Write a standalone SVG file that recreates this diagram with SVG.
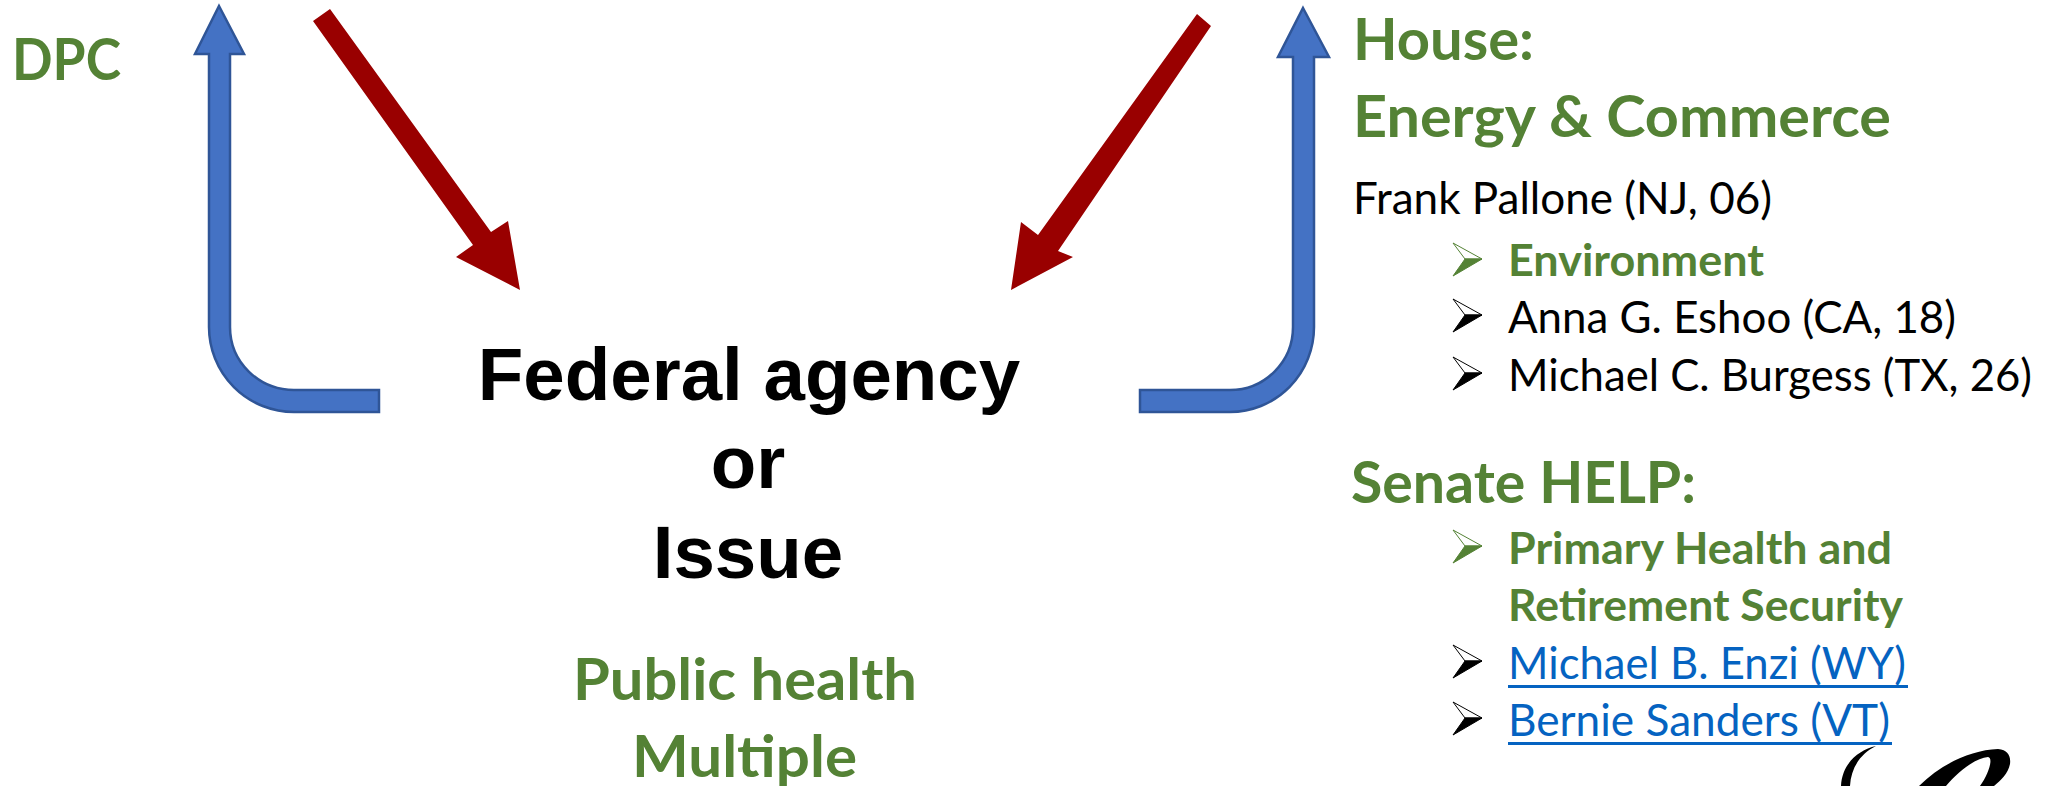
<svg xmlns="http://www.w3.org/2000/svg" width="2048" height="786" viewBox="0 0 2048 786">
<defs>
<g id="bullet">
<path d="M0 0L29 16L12 16Z" fill="#fff" stroke="currentColor" stroke-width="1"/>
<path d="M0 33L29 16L12 16Z" fill="currentColor" stroke="currentColor" stroke-width="1"/>
</g>
</defs>
<style>
text{font-family:"Lato","Carlito","Noto Sans",sans-serif;white-space:pre}
.big{font-family:"Liberation Sans",Arial,sans-serif;font-weight:700;font-size:74.5px;fill:#000;text-anchor:middle}
.h{font-weight:700;font-size:58px;fill:#548235}
.r{font-size:44px;fill:#000}
.g{font-weight:700;font-size:44px;fill:#548235}
.l{font-size:44px;fill:#0563C1}
.blue{fill:#4472C4;stroke:#2F5597;stroke-width:2.5}
.red{fill:#990000}
.kb{color:#000}
.gb{color:#548235}
</style>
<rect width="2048" height="786" fill="#fff"/>
<g id="connectors">
<path class="blue" d="M219 6L244 54H230V327A64 63 0 0 0 294 390H379V412H294A85 85 0 0 1 209 327V54H195Z"/>
<path class="blue" d="M1303 8L1329 57H1314V327A84 85 0 0 1 1230 412H1140V390H1230A63 63 0 0 0 1293 327V57H1278Z"/>
<path class="red" d="M313 21L330 9L491 232L508 221L520 290L456 257L473 245Z"/>
<path class="red" d="M1197 14L1211 26L1058 251L1073 257L1011 290L1021 222L1038 235Z"/>
</g>
<g id="node-dpc"><text class="h" x="12" y="80" textLength="109" lengthAdjust="spacingAndGlyphs">DPC</text></g>
<g id="node-center">
<text class="big" x="749" y="400">Federal agency</text>
<text class="big" x="748" y="488">or</text>
<text class="big" x="748" y="578">Issue</text>
<text class="h" x="573" y="700" textLength="344" lengthAdjust="spacingAndGlyphs">Public health</text>
<text class="h" x="632" y="777" textLength="225" lengthAdjust="spacingAndGlyphs">Multiple</text>
</g>
<g id="node-house">
<text class="h" x="1353" y="60" textLength="181" lengthAdjust="spacingAndGlyphs">House:</text>
<text class="h" x="1353" y="137" textLength="538" lengthAdjust="spacingAndGlyphs">Energy &amp; Commerce</text>
<text class="r" x="1353" y="214" textLength="419" lengthAdjust="spacingAndGlyphs">Frank Pallone (NJ, 06)</text>
<use href="#bullet" class="gb" x="1453" y="243"/>
<text class="g" x="1508" y="276" textLength="256" lengthAdjust="spacingAndGlyphs">Environment</text>
<use href="#bullet" class="kb" x="1453" y="299"/>
<text class="r" x="1508" y="333" textLength="448" lengthAdjust="spacingAndGlyphs">Anna G. Eshoo (CA, 18)</text>
<use href="#bullet" class="kb" x="1453" y="357"/>
<text class="r" x="1508" y="391" textLength="524" lengthAdjust="spacingAndGlyphs">Michael C. Burgess (TX, 26)</text>
</g>
<g id="node-senate">
<text class="h" x="1351" y="503" textLength="345" lengthAdjust="spacingAndGlyphs">Senate HELP:</text>
<use href="#bullet" class="gb" x="1453" y="530"/>
<text class="g" x="1508" y="564" textLength="384" lengthAdjust="spacingAndGlyphs">Primary Health and</text>
<text class="g" x="1508" y="621" textLength="395" lengthAdjust="spacingAndGlyphs">Retirement Security</text>
<use href="#bullet" class="kb" x="1453" y="645"/>
<text class="l" x="1508" y="679" textLength="398" lengthAdjust="spacingAndGlyphs">Michael B. Enzi (WY)</text>
<rect x="1508" y="685" width="400" height="3" fill="#0563C1"/>
<use href="#bullet" class="kb" x="1453" y="702"/>
<text class="l" x="1508" y="736" textLength="382" lengthAdjust="spacingAndGlyphs">Bernie Sanders (VT)</text>
<rect x="1508" y="742" width="384" height="3" fill="#0563C1"/>
</g>
<g id="signature" fill="#000">
<path d="M1876 746C1858 750 1842 764 1841 786H1850C1851 768 1860 754 1876 746Z"/>
<path d="M1919 786C1940 765 1970 750 1998 749C2008 750 2011 756 2010 764C2008 774 2001 780 1994 786H1980C1988 775 1994 758 1988 757C1975 758 1958 772 1946 786Z"/>
</g>
</svg>
